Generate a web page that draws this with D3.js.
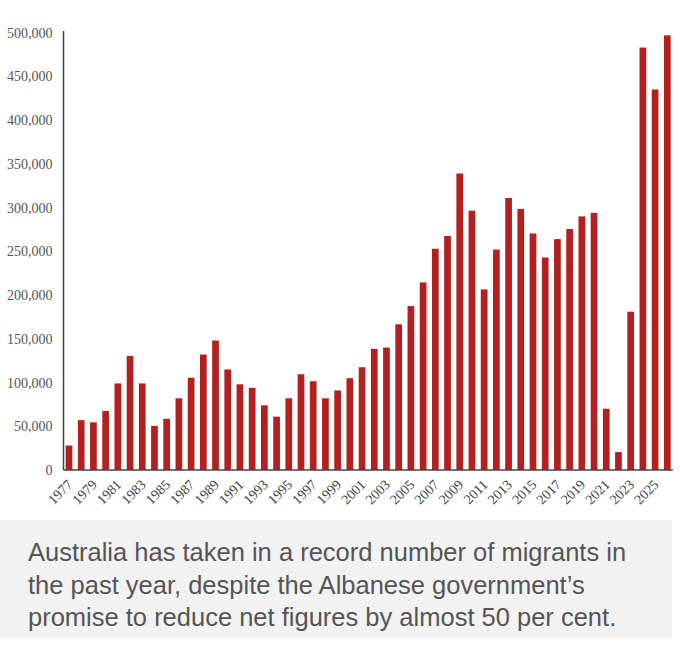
<!DOCTYPE html>
<html>
<head>
<meta charset="utf-8">
<script src="https://cdn.jsdelivr.net/npm/d3@7"></script>
<style>
  body { margin: 0; background: #fff; }
  svg { display: block; }
</style>
</head>
<body>
<div id="chart"></div>
<script>
let years = [1977, 1978, 1979, 1980, 1981, 1982, 1983, 1984, 1985, 1986,
  1987, 1988, 1989, 1990, 1991, 1992, 1993, 1994, 1995, 1996,
  1997, 1998, 1999, 2000, 2001, 2002, 2003, 2004, 2005, 2006,
  2007, 2008, 2009, 2010, 2011, 2012, 2013, 2014, 2015, 2016,
  2017, 2018, 2019, 2020, 2021, 2022, 2023, 2024, 2025, 2026];

let migrants = [28000, 57000, 54500, 67500, 99000, 130500, 99000, 50500, 58500, 82000,
  105500, 132000, 148000, 115000, 98000, 94000, 74000, 61000, 82000, 109500,
  101500, 82000, 91000, 105000, 117500, 138500, 140000, 166500, 187500, 214500,
  253000, 267500, 339000, 296500, 206500, 252000, 311000, 298500, 270500, 243000,
  264000, 275500, 290000, 294000, 70000, 20500, 181000, 483000, 435000, 497000];

let xTickYears = [1977, 1979, 1981, 1983, 1985, 1987, 1989, 1991, 1993, 1995,
  1997, 1999, 2001, 2003, 2005, 2007, 2009, 2011, 2013, 2015,
  2017, 2019, 2021, 2023, 2025];

let yTicks = [0, 50000, 100000, 150000, 200000, 250000, 300000, 350000, 400000, 450000, 500000];

let caption = ["Australia has taken in a record number of migrants in",
  "the past year, despite the Albanese government\u2019s",
  "promise to reduce net figures by almost 50 per cent."];

let width = 680,
    height = 650;

let plot = {left: 63.5, right: 672.8, top: 32.7, bottom: 470};

let svg = d3.select("#chart")
  .append("svg")
  .attr("width", width)
  .attr("height", height);

let data = years.map(function(y, i) { return {year: y, value: migrants[i]}; });

let x = d3.scaleBand()
  .domain(years)
  .range([plot.left, plot.right])
  .paddingInner(0.45)
  .paddingOuter(0.175);

let y = d3.scaleLinear()
  .domain([0, 500000])
  .range([plot.bottom, plot.top]);

// bars
svg.append("g")
  .selectAll("rect")
  .data(data)
  .enter()
  .append("rect")
  .attr("x", function(d) { return x(d.year); })
  .attr("y", function(d) { return y(d.value); })
  .attr("width", x.bandwidth())
  .attr("height", function(d) { return y(0) - y(d.value); })
  .attr("fill", "#b3201f");

// y axis
let yAxis = svg.append("g")
  .attr("transform", `translate(${plot.left},0)`)
  .call(d3.axisLeft(y)
    .tickValues(yTicks)
    .tickFormat(d3.format(","))
    .tickSize(0)
    .tickPadding(11));

yAxis.select(".domain")
  .attr("d", `M0,${plot.bottom}V${plot.top - 1.7}`)
  .attr("stroke", "#444")
  .attr("stroke-width", 1.5);

yAxis.selectAll("text")
  .attr("fill", "#555")
  .style("font-family", "'Liberation Serif', 'DejaVu Serif', serif")
  .style("font-size", "14px");

// x axis
let xAxis = svg.append("g")
  .attr("transform", `translate(0,${plot.bottom})`)
  .call(d3.axisBottom(x)
    .tickValues(xTickYears)
    .tickSize(0)
    .tickPadding(0));

xAxis.select(".domain")
  .attr("d", `M${plot.left},0H${plot.right}`)
  .attr("stroke", "#444")
  .attr("stroke-width", 1.5);

xAxis.selectAll(".tick text")
  .attr("fill", "#444")
  .style("font-family", "'Liberation Serif', 'DejaVu Serif', serif")
  .style("font-size", "14px")
  .style("text-anchor", "end")
  .attr("x", 0)
  .attr("y", 0)
  .attr("dy", "0.35em")
  .attr("transform", "translate(1,12) rotate(-45)");

// caption panel
svg.append("rect")
  .attr("x", 0)
  .attr("y", 520)
  .attr("width", 672)
  .attr("height", 118)
  .attr("fill", "#f2f2f2");

let capText = svg.append("text")
  .attr("fill", "#555")
  .style("font-family", "'Liberation Sans', Arial, sans-serif")
  .style("font-size", "25.5px");

capText.selectAll("tspan")
  .data(caption)
  .enter()
  .append("tspan")
  .attr("x", 28)
  .attr("y", function(d, i) { return 561 + i * 32.5; })
  .text(function(d) { return d; });
</script>
</body>
</html>
